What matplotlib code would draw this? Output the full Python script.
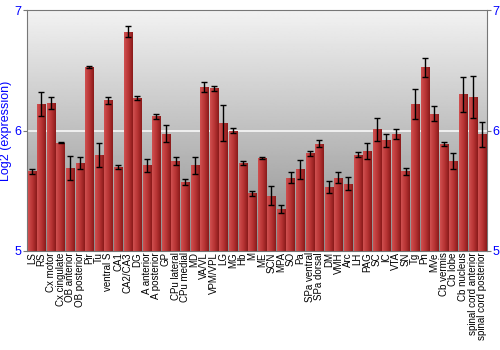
import numpy as np
import matplotlib
matplotlib.use('Agg')
import matplotlib.pyplot as plt
from matplotlib.colors import LinearSegmentedColormap

plt.rcParams['font.family'] = ['Liberation Sans', 'DejaVu Sans']

# regions and log2 expression (mean, error)
regions = ['LS', 'RS', 'Cx motor', 'Cx cingulate', 'OB anterior', 'OB posterior', 'Pir', 'Tu',
           'ventral S', 'CA1', 'CA2/CA3', 'DG', 'A anterior', 'A posterior', 'GP', 'CPu lateral',
           'CPu medial', 'MD', 'VA/VL', 'VPM/VPL', 'LG', 'MG', 'Hb', 'M', 'ME', 'SCN', 'MPA', 'SO',
           'Pa', 'SPa ventral', 'SPa dorsal', 'DM', 'VMH', 'Arc', 'LH', 'PAG', 'SC', 'IC', 'VTA',
           'SN', 'Tg', 'Pn', 'MVe', 'Cb vermis', 'Cb lobe', 'Cb nucleus',
           'spinal cord anterior', 'spinal cord posterior']
expr = [5.66, 6.22, 6.23, 5.90, 5.69, 5.73, 6.53, 5.80, 6.25, 5.70, 6.82, 6.27, 5.71, 6.12,
        5.975, 5.75, 5.57, 5.71, 6.36, 6.35, 6.06, 6.00, 5.73, 5.48, 5.77, 5.46, 5.35, 5.61,
        5.68, 5.81, 5.89, 5.53, 5.61, 5.56, 5.80, 5.83, 6.01, 5.92, 5.97, 5.66, 6.22, 6.525,
        6.14, 5.89, 5.75, 6.30, 6.28, 5.97]
err = [0.02, 0.10, 0.05, 0.005, 0.10, 0.05, 0.01, 0.10, 0.03, 0.017, 0.047, 0.014, 0.056, 0.02,
       0.067, 0.032, 0.024, 0.067, 0.042, 0.022, 0.15, 0.022, 0.018, 0.022, 0.007, 0.079, 0.032,
       0.044, 0.079, 0.024, 0.028, 0.05, 0.046, 0.053, 0.021, 0.069, 0.093, 0.053, 0.042, 0.032,
       0.124, 0.079, 0.064, 0.018, 0.067, 0.142, 0.175, 0.104]

fig = plt.figure(figsize=(5, 3.5), dpi=100)
ax = fig.add_axes([0.054, 0.283, 0.92, 0.688])

x = np.arange(len(regions))
ymin, ymax = 5, 7

# grey gradient background
grad = np.linspace(0.55, 0.95, 256).reshape(-1, 1)
ax.imshow(grad, extent=[0, 1, 0, 1], transform=ax.transAxes, cmap='gray', vmin=0, vmax=1,
          aspect='auto', origin='lower', zorder=0)
ax.axhline(6, color='#f4f4f4', lw=1.3, zorder=1)

bars = ax.bar(x, np.array(expr) - ymin, bottom=ymin, width=0.86, color='#a82a2a',
              edgecolor='none', zorder=2)
# horizontal shading on each bar
shade = np.linspace(0, 1, 64).reshape(1, -1)
redmap = LinearSegmentedColormap.from_list('r', ['#d05050', '#b83434', '#8a1a1a'])
for b in bars:
    im = ax.imshow(shade, extent=[b.get_x(), b.get_x() + b.get_width(), b.get_y(),
                                  b.get_y() + b.get_height()],
                   cmap=redmap, aspect='auto', zorder=3)
    im.set_clip_path(b)

ax.errorbar(x, expr, yerr=err, fmt='none', ecolor='black', elinewidth=1, capsize=2,
            capthick=1, zorder=4)

ax.set_xlim(-0.5, len(regions) - 0.5)
ax.set_ylim(ymin, ymax)
ax.set_xticks(x)
ax.set_xticklabels(regions, rotation=90, fontsize=7)
ax.tick_params(axis='x', length=0, pad=1)
ax.set_yticks([5, 6, 7])
ax.tick_params(axis='y', colors='#777777', labelcolor='blue', labelsize=9, length=3,
               right=True, labelright=True, pad=1)
ax.set_ylabel('Log2 (expression)', color='blue', fontsize=9, labelpad=2)
for s in ax.spines.values():
    s.set_color('#777777')

fig.savefig('out.png', dpi=100)
